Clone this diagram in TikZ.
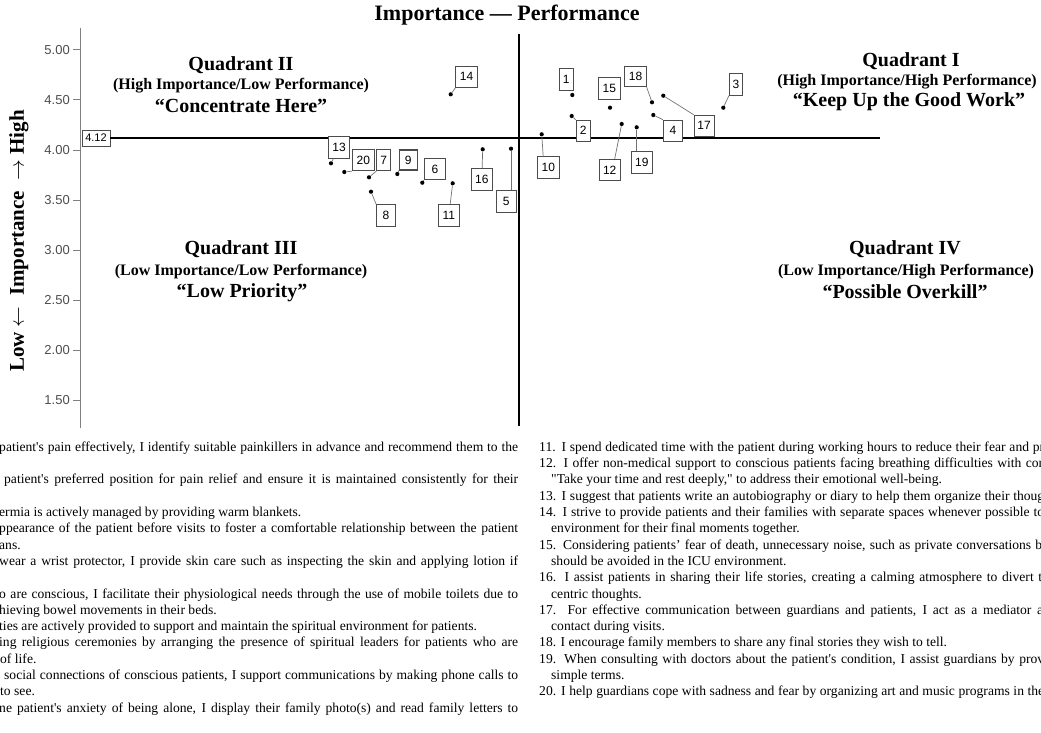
\documentclass[tikz,border=0pt]{standalone}
\usepackage{fontspec}
\setmainfont{Liberation Serif}[Ligatures=TeXOff]
\setsansfont{Liberation Sans}
\usetikzlibrary{positioning}

\newcommand{\fitline}[2]{\makebox[#1pt][s]{#2}}

\begin{document}
\begin{tikzpicture}[
  x=1pt, y=-1pt,
  num/.style={rectangle, draw=black!70, fill=white, line width=0.7pt,
              minimum width=21.5pt, minimum height=21.5pt, inner sep=0pt,
              font=\sffamily\fontsize{12}{12}\selectfont},
  dot/.style={circle, fill=black, inner sep=0pt, minimum size=4.2pt},
  lead/.style={draw=black!55, line width=0.7pt},
  qhead/.style={font=\bfseries\fontsize{20}{20}\selectfont},
  qsub/.style={font=\bfseries\fontsize{16}{16}\selectfont},
  ticklab/.style={font=\sffamily\fontsize{13}{13}\selectfont, text=black!70,
                  anchor=east, inner sep=0pt},
  item/.style={anchor=base west, inner sep=0pt,
               font=\fontsize{13.6}{13.6}\selectfont},
]
\useasboundingbox (0,0) rectangle (1041,733);

% Title
\node[font=\bfseries\fontsize{22}{22}\selectfont] (title) at (507,15) {Importance — Performance};

% Axis (left)
\coordinate (atop) at (80,28);
\coordinate (abot) at (80,428);
\draw[black!50, line width=1pt] (atop) -- (abot);
\foreach \y/\t in {50/5.00, 100/4.50, 150/4.00, 200/3.50, 250/3.00, 300/2.50, 350/2.00, 400/1.50} {
  \draw[black!50, line width=1pt] (73,\y) -- (80,\y);
  \node[ticklab] at (70,\y) {\t};
}
\node[rotate=90, font=\bfseries\fontsize{21}{21}\selectfont] (ylab) at (19,241)
  {Low~$\leftarrow$~~Importance~~$\rightarrow$~High};

% Mean lines
\node[num, minimum width=28pt, minimum height=16pt, font=\sffamily\fontsize{11}{11}\selectfont] (mean) at (96,138) {4.12};
\coordinate (hend) at (880,138);
\draw[black, line width=1.7pt] (mean) -- (hend);
\coordinate (vtop) at (519,34);
\coordinate (vbot) at (519,426);
\draw[black, line width=2.2pt] (vtop) -- (vbot);

% Quadrant labels
\node[qhead] (q2) at (241,65) {Quadrant II};
\node[qsub] (q2s) at (241,86) {(High Importance/Low Performance)};
\node[qhead] (q2t) at (241,106) {“Concentrate Here”};
\node[qhead] (q1) at (911,61) {Quadrant I};
\node[qsub] (q1s) at (907,82) {(High Importance/High Performance)};
\node[qhead] (q1t) at (909,102) {“Keep Up the Good Work”};
\node[qhead] (q3) at (241,249) {Quadrant III};
\node[qsub] (q3s) at (241,272) {(Low Importance/Low Performance)};
\node[qhead] (q3t) at (242,293) {“Low Priority”};
\node[qhead] (q4) at (905,249) {Quadrant IV};
\node[qsub] (q4s) at (906,272) {(Low Importance/High Performance)};
\node[qhead] (q4t) at (905,292) {“Possible Overkill”};

% Items: dots
\node[dot] (p1) at (572.3,95) {};
\node[dot] (p2) at (571.7,116) {};
\node[dot] (p3) at (723.3,107.7) {};
\node[dot] (p4) at (653.3,115) {};
\node[dot] (p5) at (511,148.7) {};
\node[dot] (p6) at (422.3,182.7) {};
\node[dot] (p7) at (369,177.3) {};
\node[dot] (p8) at (371,191.7) {};
\node[dot] (p9) at (397.3,174) {};
\node[dot] (p10) at (541.7,134.3) {};
\node[dot] (p11) at (452.7,183.3) {};
\node[dot] (p12) at (621.7,124) {};
\node[dot] (p13) at (331,163.3) {};
\node[dot] (p14) at (450.7,94.3) {};
\node[dot] (p15) at (610,107.7) {};
\node[dot] (p16) at (482.7,149.3) {};
\node[dot] (p17) at (663.3,95.7) {};
\node[dot] (p18) at (652,102.3) {};
\node[dot] (p19) at (636.7,127.3) {};
\node[dot] (p20) at (344.3,172) {};

% Items: labels
\node[num, minimum width=14pt] (b1) at (566.3,79.2) {1};
\node[num, minimum width=14.5pt] (b2) at (583.3,130.8) {2};
\node[num, minimum width=13.5pt] (b3) at (736,84.5) {3};
\node[num, minimum width=19.4pt] (b4) at (673,130.8) {4};
\node[num, minimum width=19.3pt] (b5) at (506.3,201.3) {5};
\node[num] (b6) at (435,169) {6};
\node[num, minimum width=14pt] (b7) at (383.7,160) {7};
\node[num, minimum width=19pt] (b8) at (386,215.3) {8};
\node[num, minimum width=18pt, minimum height=20pt, line width=1.2pt] (b9) at (408.3,160) {9};
\node[num] (b10) at (548.3,167.5) {10};
\node[num] (b11) at (448.8,215.3) {11};
\node[num] (b12) at (609.7,170) {12};
\node[num] (b13) at (339,147.5) {13};
\node[num] (b14) at (466.5,76.7) {14};
\node[num] (b15) at (609.3,88.3) {15};
\node[num] (b16) at (481.8,179.2) {16};
\node[num, minimum width=20pt] (b17) at (704,125.8) {17};
\node[num, minimum height=20.7pt] (b18) at (635.5,76.3) {18};
\node[num] (b19) at (641.8,162.5) {19};
\node[num] (b20) at (363.3,160) {20};

% Leaders
\draw[lead] (p2) -- (b2.north west);
\draw[lead] (p3) -- (b3.south west);
\draw[lead] (p4) -- (b4.north west);
\draw[lead] (p5) -- (p5 |- b5.north);
\draw[lead] (p6) -- (b6.south west);
\draw[lead] (p7) -- (b7.south west);
\draw[lead] (p8) -- (b8.north west);
\draw[lead] (p9) -- (b9.south west);
\draw[lead] (p10) -- ([xshift=6pt]b10.north west);
\draw[lead] (p11) -- (b11);
\draw[lead] (p12) -- ([xshift=5pt]b12.north);
\draw[lead] (p13) -- (b13);
\draw[lead] (p14) -- (b14.south west);
\draw[lead] (p16) -- (b16);
\draw[lead] (p17) -- (b17.north west);
\draw[lead] (p18) -- (b18.south east);
\draw[lead] (p19) -- (p19 |- b19.north);
\draw[lead] (p20) -- (b20.south west);

% Item list (left column)
\node[item] (l0) at (-1,451.3) {\fitline{519}{patient's pain effectively, I identify suitable painkillers in advance and recommend them to the}};
\node[item] (l2) at (4,483.9) {\fitline{514}{patient's preferred position for pain relief and ensure it is maintained consistently for their}};
\node[item] (l4) at (-1,516.5) {ermia is actively managed by providing warm blankets.};
\node[item] (l5) at (-1,532.8) {\fitline{519}{ppearance of the patient before visits to foster a comfortable relationship between the patient}};
\node[item] (l6) at (-1,549.1) {ans.};
\node[item] (l7) at (-1,565.4) {\fitline{519}{wear a wrist protector, I provide skin care such as inspecting the skin and applying lotion if}};
\node[item] (l9) at (-1,598.0) {\fitline{519}{o are conscious, I facilitate their physiological needs through the use of mobile toilets due to}};
\node[item] (l10) at (-1,614.3) {hieving bowel movements in their beds.};
\node[item] (l11) at (-1,630.6) {ties are actively provided to support and maintain the spiritual environment for patients.};
\node[item] (l12) at (-1,646.9) {\fitline{519}{ing religious ceremonies by arranging the presence of spiritual leaders for patients who are}};
\node[item] (l13) at (0,663.2) {of life.};
\node[item] (l14) at (4,679.5) {\fitline{514}{social connections of conscious patients, I support communications by making phone calls to}};
\node[item] (l15) at (0,695.8) {to see.};
\node[item] (l16) at (-1,712.1) {\fitline{519}{ne patient's anxiety of being alone, I display their family photo(s) and read family letters to}};

% Item list (right column)
\node[item] (r0) at (539,451.3) {\fitline{505}{11. I spend dedicated time with the patient during working hours to reduce their fear and pr}};
\node[item] (r1) at (539,467.6) {\fitline{510}{12. I offer non-medical support to conscious patients facing breathing difficulties with com}};
\node[item] (r2) at (551,483.9) {"Take your time and rest deeply," to address their emotional well-being.};
\node[item] (r3) at (539,500.2) {\fitline{505}{13. I suggest that patients write an autobiography or diary to help them organize their thoug}};
\node[item] (r4) at (539,516.5) {\fitline{505}{14. I strive to provide patients and their families with separate spaces whenever possible to}};
\node[item] (r5) at (551,532.8) {environment for their final moments together.};
\node[item] (r6) at (539,549.1) {\fitline{503}{15. Considering patients’ fear of death, unnecessary noise, such as private conversations b}};
\node[item] (r7) at (551,565.4) {should be avoided in the ICU environment.};
\node[item] (r8) at (539,581.7) {\fitline{503}{16. I assist patients in sharing their life stories, creating a calming atmosphere to divert t}};
\node[item] (r9) at (551,598.0) {centric thoughts.};
\node[item] (r10) at (539,614.3) {\fitline{504}{17. For effective communication between guardians and patients, I act as a mediator a}};
\node[item] (r11) at (551,630.6) {contact during visits.};
\node[item] (r12) at (539,646.9) {18. I encourage family members to share any final stories they wish to tell.};
\node[item] (r13) at (539,663.2) {\fitline{505}{19. When consulting with doctors about the patient's condition, I assist guardians by prov}};
\node[item] (r14) at (551,679.5) {simple terms.};
\node[item] (r15) at (539,695.8) {\fitline{505}{20. I help guardians cope with sadness and fear by organizing art and music programs in the}};

\end{tikzpicture}
\end{document}
